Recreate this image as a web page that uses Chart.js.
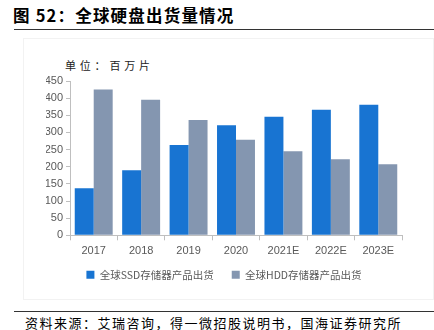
<!DOCTYPE html>
<html>
<head>
<meta charset="utf-8">
<script src="https://cdn.jsdelivr.net/npm/chart.js@4.4.1/dist/chart.umd.min.js"></script>
<style>
  html, body { margin: 0; padding: 0; background: #fff; }
  body { width: 434px; height: 330px; position: relative; overflow: hidden;
         font-family: "Noto Sans CJK SC", "Noto Sans", sans-serif; }
  #title { position: absolute; left: 13px; top: 3px; font-size: 16.5px; font-weight: bold; color: #000; letter-spacing: 1.2px; }
  #rule-top { position: absolute; left: 14px; right: 0; top: 29px; height: 1px; background: #333; }
  #frame { position: absolute; left: 23px; top: 38px; width: 411px; height: 262px; border: 1px solid #f2f2f2; box-sizing: border-box; }
  #unit { position: absolute; left: 65px; top: 57px; font-size: 11px; color: #222; letter-spacing: 3.8px; }
  #wrap { position: absolute; left: 0; top: 40px; width: 434px; height: 262px; }
  #rule-bottom { position: absolute; left: 14px; right: 0; top: 311px; height: 1px; background: #333; }
  #source { position: absolute; left: 25px; top: 313px; font-size: 13px; color: #000; letter-spacing: 1.5px; }
</style>
</head>
<body>
<div id="title">图 52：全球硬盘出货量情况</div>
<div id="rule-top"></div>
<div id="frame"></div>
<div id="unit">单位：百万片</div>
<div id="wrap"><canvas id="c"></canvas></div>
<div id="rule-bottom"></div>
<div id="source">资料来源：艾瑞咨询，得一微招股说明书，国海证券研究所</div>
<script>
// Shipments, millions of units
const years = ['2017', '2018', '2019', '2020', '2021E', '2022E', '2023E'];
const ssdShipments = [137, 190, 263, 321, 346, 366, 381];
const hddShipments = [425, 395, 336, 279, 245, 222, 207];
const yTicks = [0, 50, 100, 150, 200, 250, 300, 350, 400, 450];

const axisColor = '#bfbfbf';
const labelColor = '#595959';

// Pull the legend row a little closer to the category labels
const legendLift = {
  id: 'legendLift',
  afterLayout(chart) {
    if (chart.legend) { chart.legend.top -= 10; chart.legend.bottom -= 10; }
  }
};

new Chart(document.getElementById('c'), {
  type: 'bar',
  data: {
    labels: years,
    datasets: [
      { label: '全球SSD存储器产品出货', data: ssdShipments, backgroundColor: '#1874d2' },
      { label: '全球HDD存储器产品出货', data: hddShipments, backgroundColor: '#8496b0' }
    ]
  },
  plugins: [legendLift],
  options: {
    responsive: true,
    maintainAspectRatio: false,
    animation: false,
    datasets: { bar: { categoryPercentage: 0.8, barPercentage: 1.0 } },
    layout: { padding: { left: 46, right: 32, top: 41, bottom: 2 } },
    plugins: {
      tooltip: { enabled: false },
      legend: {
        position: 'bottom',
        labels: {
          boxWidth: 8, boxHeight: 8, padding: 18,
          color: labelColor,
          font: { family: '"Noto Sans CJK SC"', size: 10.5 }
        }
      }
    },
    scales: {
      x: {
        grid: { display: true, drawOnChartArea: false, drawTicks: true, tickLength: 5, color: axisColor },
        border: { color: axisColor },
        ticks: { color: labelColor, font: { family: '"Liberation Sans"', size: 11 }, padding: 4 }
      },
      y: {
        min: 0, max: 450,
        afterBuildTicks: s => { s.ticks = yTicks.map(v => ({ value: v })); },
        afterFit: s => { s.width = 24; },
        grid: { display: true, drawOnChartArea: false, drawTicks: true, tickLength: 4, color: axisColor },
        border: { color: axisColor },
        ticks: { color: labelColor, font: { family: '"Liberation Sans"', size: 11 }, padding: 3 }
      }
    }
  }
});
</script>
</body>
</html>
